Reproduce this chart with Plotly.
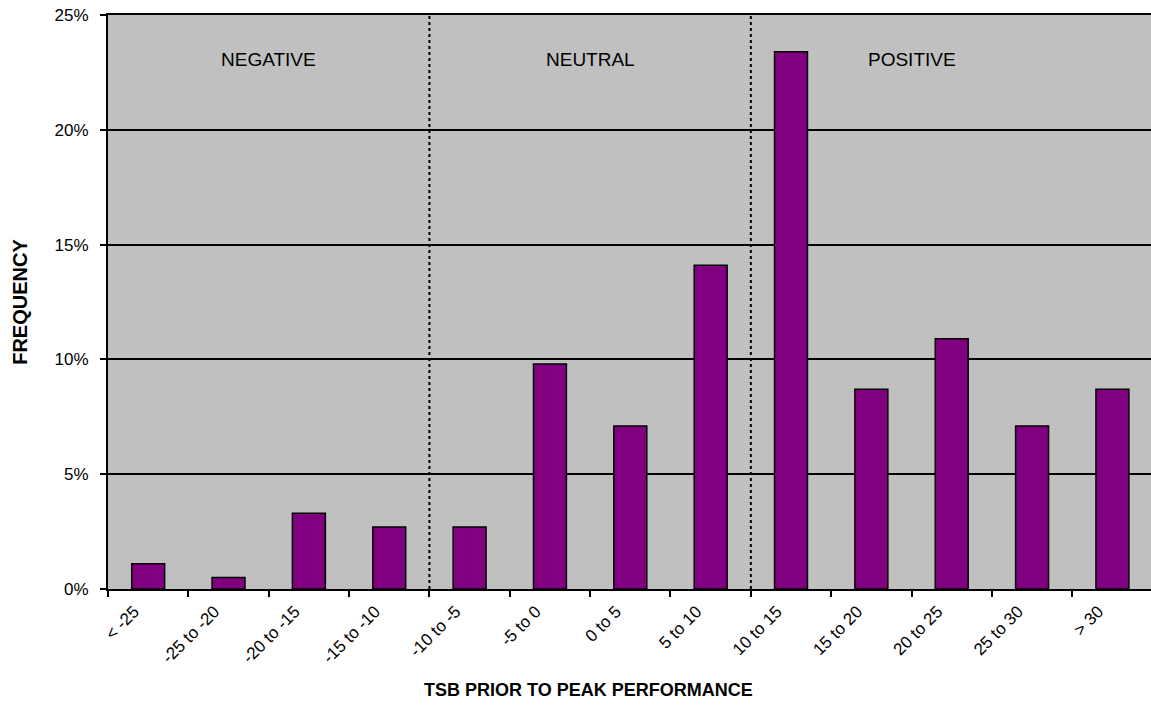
import plotly.graph_objects as go

# TSB bins and share of peak performances falling in each bin (%)
categories = ["< -25", "-25 to -20", "-20 to -15", "-15 to -10", "-10 to -5",
              "-5 to 0", "0 to 5", "5 to 10", "10 to 15", "15 to 20",
              "20 to 25", "25 to 30", "> 30"]
frequency = [1.1, 0.5, 3.3, 2.7, 2.7, 9.8, 7.1, 14.1, 23.4, 8.7, 10.9, 7.1, 8.7]

y_ticks = [0, 5, 10, 15, 20, 25]
y_tick_text = [f"{v}%" for v in y_ticks]

zone_labels = ["NEGATIVE", "NEUTRAL", "POSITIVE"]
zone_label_x = [1.5, 5.5, 9.5]
zone_dividers = [3.5, 7.5]

FONT = "Liberation Sans, Arial, sans-serif"

W, H = 1151, 706
M_L, M_R, M_T, M_B = 108, 0, 15, 117

fig = go.Figure(go.Bar(
    x=categories,
    y=frequency,
    width=0.41,
    marker=dict(color="#800080", line=dict(color="black", width=1.5)),
    hoverinfo="x+y",
))

for xv in zone_dividers:
    fig.add_shape(type="line", x0=xv, x1=xv, y0=0, y1=25, xref="x", yref="y",
                  line=dict(color="black", width=2, dash="dot"), layer="above")

for txt, xv in zip(zone_labels, zone_label_x):
    fig.add_annotation(x=xv, y=23.05, xref="x", yref="y", text=txt,
                       showarrow=False, font=dict(family=FONT, size=19, color="black"))

# x-axis title, centred a little left of the plot centre
fig.add_annotation(
    xref="paper", yref="paper",
    x=(588 - M_L) / (W - M_L - M_R), y=-(690 - (H - M_B)) / (H - M_T - M_B),
    xanchor="center", yanchor="middle", showarrow=False,
    text="<b>TSB PRIOR TO PEAK PERFORMANCE</b>",
    font=dict(family=FONT, size=18, color="black"),
)

fig.update_layout(
    width=W, height=H,
    margin=dict(l=M_L, r=M_R, t=M_T, b=M_B),
    paper_bgcolor="white",
    plot_bgcolor="#C0C0C0",
    showlegend=False,
    font=dict(family=FONT, size=17, color="black"),
)

fig.update_xaxes(
    type="category",
    range=[-0.5, 12.48],
    tickson="boundaries",
    ticks="outside", ticklen=6, tickwidth=2, tickcolor="black",
    tickangle=-45,
    ticklabelshift=-14, ticklabelstandoff=4,
    tickfont=dict(family=FONT, size=17, color="black"),
    showline=True, linecolor="black", linewidth=2, mirror=True,
    showgrid=False, zeroline=False,
)

fig.update_yaxes(
    range=[0, 25],
    tickvals=y_ticks, ticktext=y_tick_text,
    ticks="outside", ticklen=6, tickwidth=2, tickcolor="black",
    ticklabelstandoff=8,
    tickfont=dict(family=FONT, size=17, color="black"),
    showline=True, linecolor="black", linewidth=2,
    showgrid=True, gridcolor="black", gridwidth=1.5,
    zeroline=False,
    title=dict(text="<b>FREQUENCY</b>", font=dict(family=FONT, size=20, color="black"), standoff=22),
)

fig.write_html("out.html")
